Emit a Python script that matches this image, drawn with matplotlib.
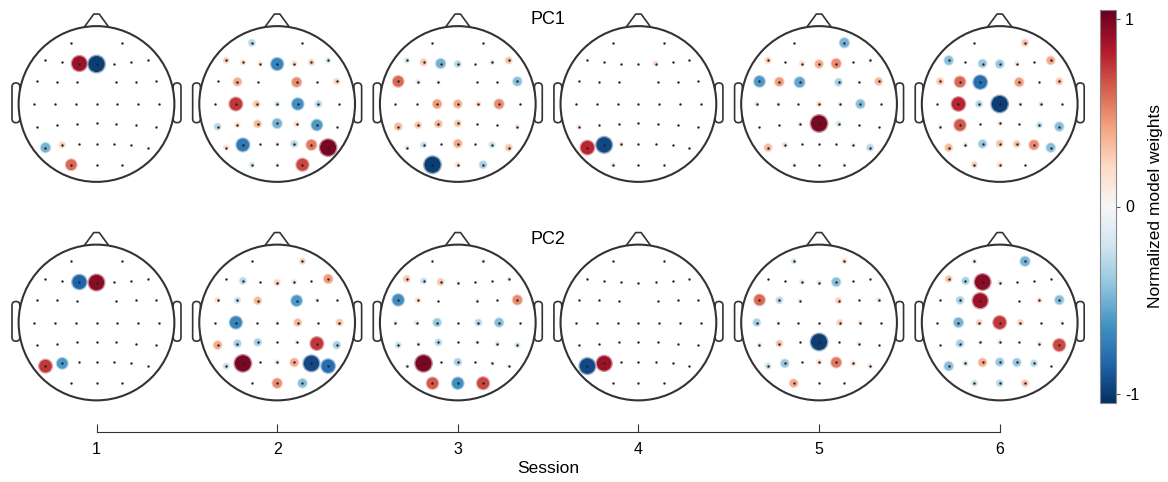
import matplotlib.pyplot as plt
import numpy as np
from matplotlib.patches import Circle, Polygon, FancyBboxPatch
from matplotlib import cm, colors

plt.rcParams['font.family'] = ['Liberation Sans', 'DejaVu Sans']

# electrode montage (x, y) in head-radius units, front of head up
rows_x = [
    [-0.325, 0.325],
    [-0.655, -0.44, -0.22, 0, 0.22, 0.44, 0.655],
    [-0.765, -0.51, -0.25, 0.25, 0.51, 0.765],
    [-0.80, -0.53, -0.265, 0, 0.265, 0.53, 0.80],
    [-0.765, -0.51, -0.25, 0, 0.25, 0.51, 0.765],
    [-0.655, -0.44, -0.22, 0, 0.22, 0.44, 0.655],
    [-0.325, 0, 0.325],
]
rows_y = [
    [0.786, 0.786],
    [0.56, 0.535, 0.52, 0.513, 0.52, 0.535, 0.56],
    [0.29, 0.285, 0.28, 0.28, 0.285, 0.29],
    [0, 0, 0, 0, 0, 0, 0],
    [-0.29, -0.27, -0.255, -0.25, -0.255, -0.27, -0.29],
    [-0.56, -0.525, -0.513, -0.508, -0.513, -0.525, -0.56],
    [-0.78, -0.78, -0.78],
]
elec_x = np.array([v for r in rows_x for v in r])
elec_y = np.array([v for r in rows_y for v in r])

sessions = [1, 2, 3, 4, 5, 6]
components = ['PC1', 'PC2']

# normalized model weights, one list per session, electrodes in montage order
pc1 = [
    [0, 0,
     0, 0, 0.9, -1.0, 0, 0, 0,
     0, 0, 0, 0, 0, 0,
     0, 0, 0, 0, 0, 0, 0,
     0, 0, 0, 0, 0, 0, 0,
     -0.5, 0.25, 0, 0, 0, 0, 0,
     0.6, 0, 0],
    [-0.3, 0,
     0.25, 0.2, 0.15, -0.7, 0.2, 0.25, -0.2,
     0, 0.4, 0, 0.5, 0, 0.25,
     0, 0.75, 0.3, -0.2, -0.65, -0.3, 0,
     -0.3, 0.2, 0.35, -0.5, 0.2, -0.6, 0,
     0.2, -0.75, 0, 0.1, -0.3, 0.55, 1.0,
     -0.2, 0.1, 0.7],
    [0, 0,
     -0.2, 0.3, -0.5, -0.3, 0, -0.15, 0.3,
     0.6, -0.15, -0.1, 0, 0, -0.45,
     0, 0, 0.45, 0.4, 0.2, 0.5, 0,
     0.35, 0.3, 0.35, 0.3, 0, 0, 0.15,
     -0.15, -0.25, 0, 0.4, 0, -0.25, 0.3,
     -1.0, 0.2, -0.35],
    [0, 0,
     0, 0, 0, 0, 0.2, 0, 0,
     0, 0, 0, 0, 0, 0,
     0, 0, 0, 0, 0, 0, 0,
     0.15, 0, 0, 0, 0, 0, 0,
     0.8, -0.95, 0.15, 0, 0, 0, 0,
     0.15, 0, 0],
    [0, -0.5,
     0.25, 0, 0.2, 0.4, 0.5, 0, 0.1,
     -0.6, 0.45, -0.55, -0.35, 0.05, 0.35,
     0.15, -0.1, 0, 0.2, -0.1, -0.45, 0,
     0, 0, -0.1, 1.0, -0.2, 0, 0,
     0.35, 0.2, 0, 0, 0, -0.1, -0.3,
     -0.1, 0, -0.05],
    [0, 0.3,
     -0.45, 0, -0.4, -0.4, 0.15, 0, 0.4,
     0.3, 0.6, -0.8, 0.45, 0, 0.3,
     0, 0.8, -0.3, -1.0, -0.1, -0.15, 0,
     -0.1, 0.65, 0, 0.15, 0, -0.25, -0.45,
     0.35, -0.15, -0.4, 0.3, 0.3, 0.5, -0.45,
     0.25, 0.2, 0],
]
pc2 = [
    [0, 0,
     0, 0, -0.85, 0.95, 0, 0, 0,
     0, 0, 0, 0, 0, 0,
     0, 0, 0, 0, 0, 0, 0,
     0, 0, 0, 0, 0, 0, 0,
     0.75, -0.6, 0, 0, 0, 0, 0,
     0, 0, 0],
    [0, 0.25,
     0, -0.3, 0, 0.25, -0.15, 0, 0.45,
     0.2, -0.25, 0.35, -0.6, -0.1, 0,
     0, -0.7, 0, 0.1, 0.35, 0, 0.3,
     0.4, -0.35, -0.35, 0, -0.1, 0.75, -0.35,
     -0.25, 1.0, 0, -0.15, 0.4, -0.95, -0.8,
     0, 0.5, -0.45],
    [0, -0.1,
     0.3, -0.25, 0.3, 0.1, 0, 0, -0.1,
     -0.65, 0.2, 0, 0.1, 0, 0.5,
     0.1, -0.15, -0.4, 0, -0.3, -0.45, 0,
     -0.25, -0.1, -0.3, 0, -0.1, -0.15, -0.2,
     -0.1, 1.0, 0, -0.35, 0, 0.1, -0.1,
     0.65, -0.65, 0.7],
    [0, 0,
     0, 0, 0, 0, 0, 0, 0,
     0, 0, 0, 0, 0, 0,
     0, 0, 0, 0, 0, 0, 0,
     0, 0, 0, 0, 0, 0, 0,
     -0.95, 0.9, 0, 0, 0, 0, 0,
     0, 0, 0],
    [-0.2, 0.2,
     0, 0, -0.15, -0.15, -0.45, 0, 0,
     0.6, -0.3, 0.1, 0.25, 0, -0.15,
     -0.35, 0.1, 0, 0, 0.25, 0.15, 0,
     0.15, 0.3, 0, -1.0, 0, 0.1, 0,
     -0.25, -0.4, 0, 0.2, 0.55, 0.2, 0.15,
     0.4, 0, 0],
    [-0.15, -0.5,
     0.3, -0.35, 0.95, 0.15, 0, 0, 0,
     0, -0.35, 0.9, 0, 0.2, -0.45,
     0, -0.5, 0.25, 0.75, 0.25, 0, 0.1,
     0, -0.35, -0.1, -0.15, 0, 0.15, 0.7,
     -0.45, -0.2, 0.4, -0.4, -0.4, -0.3, 0,
     -0.25, -0.3, 0.3],
]
weights = [pc1, pc2]

W, H = 1168, 482
cmap = plt.get_cmap('RdBu_r')
norm = colors.Normalize(vmin=-1.05, vmax=1.05)
line_c = '#333333'

fig = plt.figure(figsize=(W / 100, H / 100), dpi=100)

col_cx = [96.5 + 180.64 * i for i in range(6)]
row_cy = [104, 322.5]
box = 190


def draw_head(ax, w):
    ax.set_xlim(-1.22, 1.22)
    ax.set_ylim(-1.22, 1.22)
    ax.set_aspect('equal')
    ax.axis('off')
    # ears
    for side in (-1, 1):
        ear = FancyBboxPatch((side * 1.035 - 0.05, -0.24), 0.1, 0.51,
                             boxstyle='round,pad=0,rounding_size=0.05',
                             fc='white', ec=line_c, lw=1.2, zorder=1)
        ax.add_patch(ear)
    # nose
    nose = Polygon([[-0.185, 0.95], [-0.035, 1.155], [0.035, 1.155], [0.185, 0.95]],
                   closed=False, fc='white', ec=line_c, lw=1.2, zorder=1,
                   joinstyle='round')
    ax.add_patch(nose)
    ax.add_patch(Circle((0, 0), 1.0, fc='white', ec=line_c, lw=1.5, zorder=2))
    w = np.array(w)
    for x, y, v in zip(elec_x, elec_y, w):
        if v == 0:
            continue
        r = 0.015 + 0.088 * abs(v)
        c = np.array(cmap(norm(v)))
        soft = c.copy()
        soft[:3] = 0.45 * c[:3] + 0.55
        ax.add_patch(Circle((x, y), r * 1.1 + 0.008, fc=soft, ec='none', zorder=3))
        ax.add_patch(Circle((x, y), r, fc=c, ec='none', zorder=4))
    ax.scatter(elec_x, elec_y, s=3, c='#222222', lw=0, zorder=5)


for ri, comp in enumerate(components):
    for ci, s in enumerate(sessions):
        cx, cy = col_cx[ci], row_cy[ri]
        ax = fig.add_axes([(cx - box / 2) / W, (H - cy - box / 2) / H, box / W, box / H])
        draw_head(ax, weights[ri][ci])

fig.text(548 / W, 1 - 20 / H, 'PC1', ha='center', va='center', fontsize=13)
fig.text(548 / W, 1 - 240 / H, 'PC2', ha='center', va='center', fontsize=13)

# session axis
sx = fig.add_axes([(col_cx[0] - 90.32) / W, (H - 432) / H, (col_cx[-1] - col_cx[0] + 180.64) / W, 0.01])
sx.set_xlim(0.5, 6.5)
sx.set_ylim(0, 1)
sx.patch.set_alpha(0)
for sp in ['top', 'left', 'right']:
    sx.spines[sp].set_visible(False)
sx.spines['bottom'].set_bounds(1, 6)
sx.spines['bottom'].set_color(line_c)
sx.set_yticks([])
sx.set_xticks(sessions)
sx.tick_params(axis='x', direction='in', length=6, color=line_c, labelsize=11.5, pad=7)
sx.set_xlabel('Session', fontsize=12.5, labelpad=3)

# colorbar
cax = fig.add_axes([1100 / W, (H - 403) / H, 16 / W, 393 / H])
cb = fig.colorbar(cm.ScalarMappable(norm=norm, cmap=cmap), cax=cax, ticks=[-1, 0, 1])
cb.ax.set_yticklabels(['-1', '0', '1'])
cb.ax.tick_params(labelsize=11.5, length=3, color='#555555')
cb.outline.set_edgecolor('#888888')
cb.set_label('Normalized model weights', fontsize=12.5, labelpad=6)

fig.savefig('out.png', dpi=100)
